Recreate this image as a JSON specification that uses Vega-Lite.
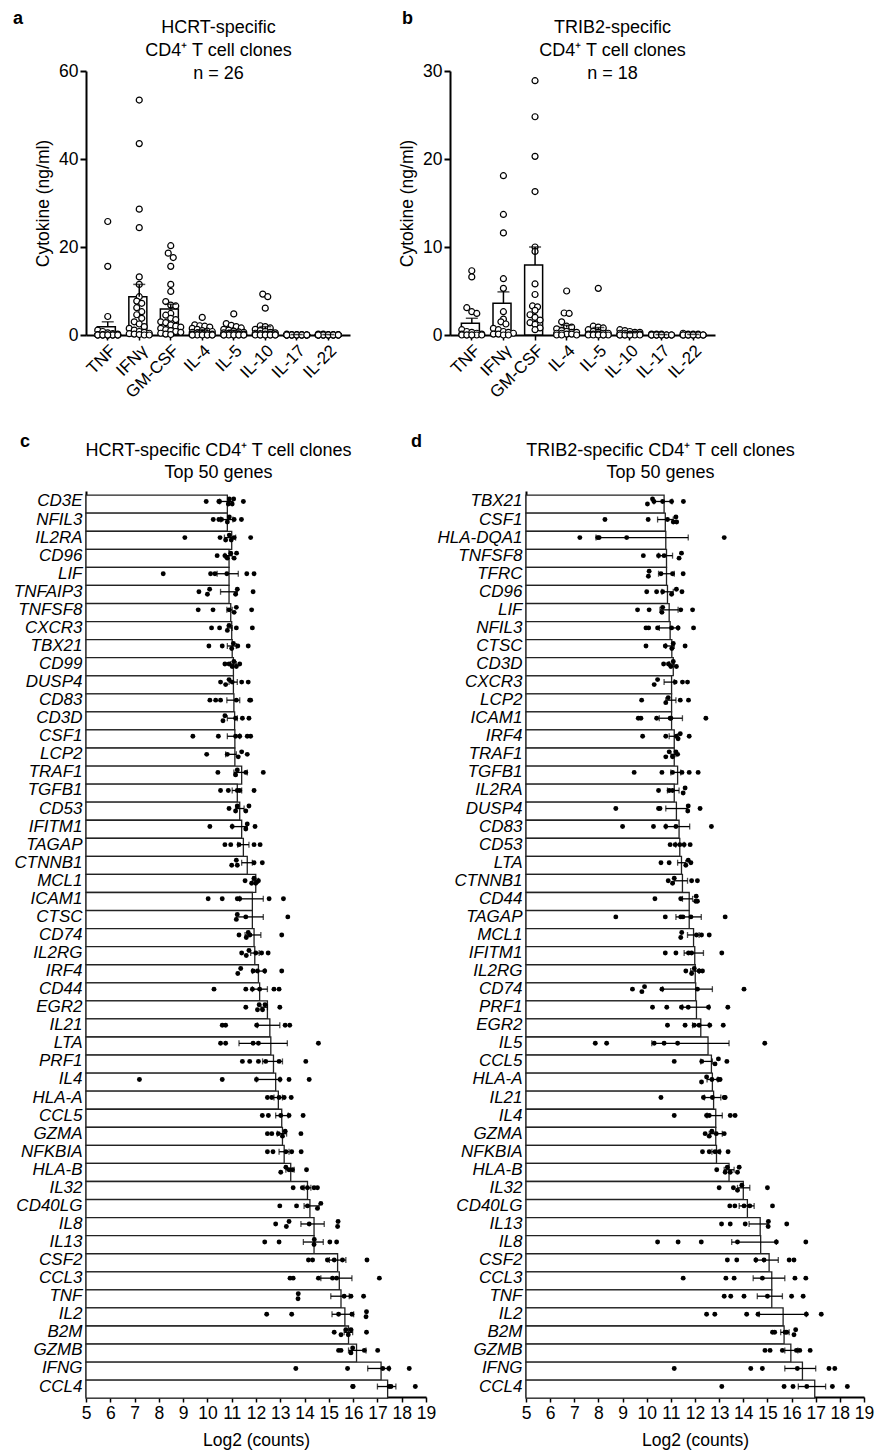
{
"$schema": "https://vega.github.io/schema/vega-lite/v6.json",
"background": "white",
"padding": {"left": 13, "top": 10, "right": 2, "bottom": 2},
"spacing": 32,
"config": {
  "view": {"stroke": null},
  "font": "Liberation Sans",
  "axis": {"grid": false, "domainColor": "black", "tickColor": "black", "labelColor": "black", "titleColor": "black", "labelFont": "Liberation Sans", "titleFont": "Liberation Sans"},
  "title": {"font": "Liberation Sans", "fontSize": 18, "fontWeight": "bold", "color": "black", "anchor": "start", "frame": "group", "offset": -10}
},
"vconcat": [
{
"hconcat": [
{
  "width": 264, "height": 264,
  "title": {"text": "a", "dx": -73},
  "data": {"values": [
    {"c":"TNF","m":1.9,"e":3.0,"v":[25.8,15.6,4.2,1.1,0.8,0.5,0.3,0.2,0.1,0.1,0,0,0,0,0,0,0,0,0,0,0,0,0,0,0,0]},
    {"c":"IFNγ","m":8.7,"e":11.5,"v":[53.4,43.5,28.6,24.4,13.2,11.5,8.7,7.7,7.2,6.2,5.3,4.6,3.8,3.0,2.5,1.9,1.5,1.1,0.8,0.6,0.4,0.3,0.2,0.1,0,0]},
    {"c":"GM-CSF","m":5.9,"e":7.0,"v":[20.3,18.6,17.6,15.6,11.5,9.9,7.6,6.8,6.6,4.9,4.5,3.8,3.5,3.0,2.8,2.3,2.0,1.8,1.5,1.2,1.0,0.8,0.6,0.4,0.2,0.1]},
    {"c":"IL-4","m":0.85,"e":1.2,"v":[4.0,2.3,2.1,2.0,1.8,1.5,1.3,1.0,0.9,0.8,0.6,0.5,0.4,0.3,0.2,0.2,0.1,0.1,0,0,0,0,0,0,0,0]},
    {"c":"IL-5","m":0.8,"e":1.1,"v":[4.8,2.6,2.2,1.9,1.6,1.3,1.1,0.9,0.7,0.6,0.5,0.4,0.3,0.2,0.2,0.1,0.1,0,0,0,0,0,0,0,0,0]},
    {"c":"IL-10","m":1.3,"e":1.9,"v":[9.3,8.7,6.1,2.1,1.9,1.6,1.3,1.0,0.8,0.6,0.5,0.4,0.3,0.2,0.2,0.1,0.1,0,0,0,0,0,0,0,0,0]},
    {"c":"IL-17","m":0.05,"e":0.1,"v":[0.2,0.1,0.1,0.1,0,0,0,0,0,0,0,0,0,0,0,0,0,0,0,0,0,0,0,0,0,0]},
    {"c":"IL-22","m":0.06,"e":0.1,"v":[0.2,0.2,0.1,0.1,0.1,0,0,0,0,0,0,0,0,0,0,0,0,0,0,0,0,0,0,0,0,0]}
  ]},
  "resolve": {"axis": {"x": "independent", "y": "independent"}},
  "layer": [
    {"mark": {"type": "bar", "fill": "white", "stroke": "black", "strokeWidth": 1.5},
     "encoding": {
       "x": {"field": "c", "type": "nominal", "sort": ["TNF","IFNγ","GM-CSF","IL-4","IL-5","IL-10","IL-17","IL-22"], "scale": {"paddingInner": 0.34, "paddingOuter": 0.36},
             "axis": {"orient": "bottom", "title": null, "labelAngle": -45, "labelFontSize": 17, "labelPadding": 2, "tickSize": 5, "tickWidth": 1.5, "domainWidth": 2}},
       "y": {"field": "m", "type": "quantitative", "scale": {"domain": [0, 60]},
             "axis": {"title": "Cytokine (ng/ml)", "values": [0,20,40,60], "labelFontSize": 17.5, "titleFontSize": 17.5, "titleFontWeight": "normal", "tickSize": 6, "tickWidth": 2, "domainWidth": 2, "labelPadding": 2, "titlePadding": 6}}
     }},
    {"transform": [
       {"flatten": ["v"]},
       {"calculate": "floor(datum.v/1.6)", "as": "b"},
       {"window": [{"op": "row_number", "as": "r"}], "groupby": ["c","b"], "sort": [{"field": "v", "order": "descending"}]},
       {"joinaggregate": [{"op": "count", "as": "n"}], "groupby": ["c","b"]},
       {"calculate": "datum.n==1?0:((datum.r-1)%5-min(datum.n-1,4)/2)*5", "as": "jo"}
     ],
     "mark": {"type": "point", "shape": "circle", "filled": true, "fill": "white", "stroke": "black", "strokeWidth": 1.2, "size": 36, "opacity": 1},
     "encoding": {
       "x": {"field": "c", "type": "nominal", "sort": ["TNF","IFNγ","GM-CSF","IL-4","IL-5","IL-10","IL-17","IL-22"],
             "axis": {"orient": "top", "labels": false, "ticks": false, "domain": false, "title": ["HCRT-specific","CD4⁺ T cell clones","n = 26"], "titleFontSize": 18, "titleFontWeight": "normal", "titleX": 132, "titleY": -39, "titleAlign": "center", "titleBaseline": "alphabetic", "titleAngle": 0, "titleLineHeight": 23}},
       "xOffset": {"field": "jo", "type": "quantitative", "scale": {"domain": [-10.4, 10.4], "range": [0, 20.8]}},
       "y": {"field": "v", "type": "quantitative", "scale": {"domain": [0, 60]}, "axis": null}
     }},
    {"mark": {"type": "rule", "color": "black", "strokeWidth": 1.5},
     "encoding": {
       "x": {"field": "c", "type": "nominal", "sort": ["TNF","IFNγ","GM-CSF","IL-4","IL-5","IL-10","IL-17","IL-22"], "axis": null},
       "y": {"field": "m", "type": "quantitative", "scale": {"domain": [0, 60]}, "axis": null},
       "y2": {"field": "e"}
     }},
    {"mark": {"type": "tick", "color": "black", "thickness": 1.5, "size": 12},
     "encoding": {
       "x": {"field": "c", "type": "nominal", "sort": ["TNF","IFNγ","GM-CSF","IL-4","IL-5","IL-10","IL-17","IL-22"], "axis": null},
       "y": {"field": "e", "type": "quantitative", "scale": {"domain": [0, 60]}, "axis": null}
     }}
  ]
},
{
  "width": 265, "height": 264,
  "title": {"text": "b", "dx": -48},
  "data": {"values": [
    {"c":"TNF","m":1.33,"e":1.9,"v":[7.3,6.6,3.1,2.65,2.45,0.6,0.4,0.3,0.2,0.1,0.1,0,0,0,0,0,0,0]},
    {"c":"IFNγ","m":3.6,"e":4.9,"v":[18.1,13.7,11.6,6.4,5.3,2.65,1.8,1.5,1.25,0.75,0.6,0.4,0.3,0.2,0.1,0.1,0,0]},
    {"c":"GM-CSF","m":7.95,"e":10.0,"v":[28.9,24.8,20.3,16.3,10.0,9.5,5.8,4.6,3.3,3.2,2.8,2.3,2.0,1.7,1.4,1.2,0.8,0.6]},
    {"c":"IL-4","m":0.85,"e":1.1,"v":[5.0,2.5,2.45,1.5,1.0,0.9,0.7,0.5,0.4,0.3,0.3,0.2,0.2,0.1,0.1,0,0,0]},
    {"c":"IL-5","m":0.55,"e":0.85,"v":[5.3,1.0,0.9,0.8,0.6,0.4,0.3,0.2,0.2,0.1,0.1,0.1,0,0,0,0,0,0]},
    {"c":"IL-10","m":0.2,"e":0.25,"v":[0.6,0.5,0.4,0.3,0.3,0.2,0.2,0.1,0.1,0.1,0,0,0,0,0,0,0,0]},
    {"c":"IL-17","m":0.03,"e":0.05,"v":[0.1,0.1,0.1,0,0,0,0,0,0,0,0,0,0,0,0,0,0,0]},
    {"c":"IL-22","m":0.05,"e":0.07,"v":[0.2,0.1,0.1,0.1,0,0,0,0,0,0,0,0,0,0,0,0,0,0]}
  ]},
  "resolve": {"axis": {"x": "independent", "y": "independent"}},
  "layer": [
    {"mark": {"type": "bar", "fill": "white", "stroke": "black", "strokeWidth": 1.5},
     "encoding": {
       "x": {"field": "c", "type": "nominal", "sort": ["TNF","IFNγ","GM-CSF","IL-4","IL-5","IL-10","IL-17","IL-22"], "scale": {"paddingInner": 0.34, "paddingOuter": 0.36},
             "axis": {"orient": "bottom", "title": null, "labelAngle": -45, "labelFontSize": 17, "labelPadding": 2, "tickSize": 5, "tickWidth": 1.5, "domainWidth": 2}},
       "y": {"field": "m", "type": "quantitative", "scale": {"domain": [0, 30]},
             "axis": {"title": "Cytokine (ng/ml)", "values": [0,10,20,30], "labelFontSize": 17.5, "titleFontSize": 17.5, "titleFontWeight": "normal", "tickSize": 6, "tickWidth": 2, "domainWidth": 2, "labelPadding": 2, "titlePadding": 6}}
     }},
    {"transform": [
       {"flatten": ["v"]},
       {"calculate": "floor(datum.v/0.8)", "as": "b"},
       {"window": [{"op": "row_number", "as": "r"}], "groupby": ["c","b"], "sort": [{"field": "v", "order": "descending"}]},
       {"joinaggregate": [{"op": "count", "as": "n"}], "groupby": ["c","b"]},
       {"calculate": "datum.n==1?0:((datum.r-1)%5-min(datum.n-1,4)/2)*5", "as": "jo"}
     ],
     "mark": {"type": "point", "shape": "circle", "filled": true, "fill": "white", "stroke": "black", "strokeWidth": 1.2, "size": 36, "opacity": 1},
     "encoding": {
       "x": {"field": "c", "type": "nominal", "sort": ["TNF","IFNγ","GM-CSF","IL-4","IL-5","IL-10","IL-17","IL-22"],
             "axis": {"orient": "top", "labels": false, "ticks": false, "domain": false, "title": ["TRIB2-specific","CD4⁺ T cell clones","n = 18"], "titleFontSize": 18, "titleFontWeight": "normal", "titleX": 162, "titleY": -39, "titleAlign": "center", "titleBaseline": "alphabetic", "titleAngle": 0, "titleLineHeight": 23}},
       "xOffset": {"field": "jo", "type": "quantitative", "scale": {"domain": [-10.4, 10.4], "range": [0, 20.8]}},
       "y": {"field": "v", "type": "quantitative", "scale": {"domain": [0, 30]}, "axis": null}
     }},
    {"mark": {"type": "rule", "color": "black", "strokeWidth": 1.5},
     "encoding": {
       "x": {"field": "c", "type": "nominal", "sort": ["TNF","IFNγ","GM-CSF","IL-4","IL-5","IL-10","IL-17","IL-22"], "axis": null},
       "y": {"field": "m", "type": "quantitative", "scale": {"domain": [0, 30]}, "axis": null},
       "y2": {"field": "e"}
     }},
    {"mark": {"type": "tick", "color": "black", "thickness": 1.5, "size": 12},
     "encoding": {
       "x": {"field": "c", "type": "nominal", "sort": ["TNF","IFNγ","GM-CSF","IL-4","IL-5","IL-10","IL-17","IL-22"], "axis": null},
       "y": {"field": "e", "type": "quantitative", "scale": {"domain": [0, 30]}, "axis": null}
     }}
  ]
}
],
"spacing": 100,
"bounds": "flush"
},
{
"hconcat": [
{
  "width": 340, "height": 906,
  "title": {"text": "c", "dx": -66},
  "data": {"values": [
    {"g":"CD3E","m":10.82,"lo":10.5,"hi":11.05,"v":[9.95,10.47,10.5,10.86,10.9,11.02,11.08,11.48]},
    {"g":"NFIL3","m":10.82,"lo":10.55,"hi":11.05,"v":[10.24,10.47,10.58,10.82,10.9,11.1,11.4]},
    {"g":"IL2RA","m":11.0,"lo":10.7,"hi":11.16,"v":[9.07,10.52,10.75,10.98,11.1,10.9,11.78]},
    {"g":"CD96","m":10.89,"lo":10.72,"hi":11.02,"v":[10.4,10.72,10.82,10.96,11.1,11.2]},
    {"g":"LIF","m":10.89,"lo":10.4,"hi":11.27,"v":[8.18,10.13,10.31,10.8,11.62,11.92]},
    {"g":"TNFAIP3","m":10.89,"lo":10.54,"hi":11.23,"v":[9.65,10.0,10.09,11.16,11.23,11.88]},
    {"g":"TNFSF8","m":10.96,"lo":10.8,"hi":11.02,"v":[9.62,10.23,10.89,11.1,11.19,11.82]},
    {"g":"CXCR3","m":11.0,"lo":10.82,"hi":11.02,"v":[10.17,10.5,10.82,10.89,11.19,11.85]},
    {"g":"TBX21","m":11.02,"lo":10.82,"hi":11.19,"v":[10.06,10.61,11.0,11.07,11.25,11.68]},
    {"g":"CD99","m":11.07,"lo":10.96,"hi":11.19,"v":[10.72,10.89,11.02,11.09,11.19,11.33]},
    {"g":"DUSP4","m":11.07,"lo":10.89,"hi":11.23,"v":[10.54,10.75,10.89,11.02,11.41,11.68]},
    {"g":"CD83","m":11.09,"lo":10.8,"hi":11.33,"v":[10.1,10.34,10.54,11.19,11.74,11.78]},
    {"g":"CD3D","m":11.12,"lo":10.82,"hi":11.23,"v":[10.64,10.72,11.16,11.44,11.71]},
    {"g":"CSF1","m":11.13,"lo":10.82,"hi":11.33,"v":[9.4,10.45,11.16,11.33,11.64,11.78]},
    {"g":"LCP2","m":11.13,"lo":10.75,"hi":11.19,"v":[9.97,10.82,11.27,11.41,11.64]},
    {"g":"TRAF1","m":11.41,"lo":11.09,"hi":11.64,"v":[10.43,11.16,11.23,11.58,12.3]},
    {"g":"TGFB1","m":11.23,"lo":11.02,"hi":11.41,"v":[10.54,10.86,11.23,11.33,11.92]},
    {"g":"CD53","m":11.33,"lo":11.16,"hi":11.51,"v":[10.89,11.16,11.23,11.58,11.71]},
    {"g":"IFITM1","m":11.41,"lo":11.02,"hi":11.64,"v":[10.1,11.02,11.58,11.64,11.96]},
    {"g":"TAGAP","m":11.48,"lo":11.25,"hi":11.71,"v":[10.72,10.96,11.3,11.92,12.17]},
    {"g":"CTNNB1","m":11.64,"lo":11.41,"hi":11.85,"v":[11.0,11.19,11.23,11.92,12.26]},
    {"g":"MCL1","m":11.99,"lo":11.85,"hi":12.1,"v":[11.55,11.82,11.92,11.99,12.1]},
    {"g":"ICAM1","m":11.85,"lo":11.33,"hi":12.3,"v":[10.03,10.61,11.23,11.33,12.54,13.13]},
    {"g":"CTSC","m":11.85,"lo":11.19,"hi":12.3,"v":[11.19,11.23,11.58,13.31]},
    {"g":"CD74","m":11.92,"lo":11.55,"hi":12.2,"v":[11.3,11.6,11.68,11.75,13.06]},
    {"g":"IL2RG","m":11.95,"lo":11.78,"hi":12.13,"v":[11.41,11.6,11.71,11.99,12.23,12.5]},
    {"g":"IRF4","m":12.1,"lo":11.85,"hi":12.37,"v":[11.25,11.37,11.88,12.06,12.36,13.06]},
    {"g":"CD44","m":12.15,"lo":11.85,"hi":12.47,"v":[10.27,11.58,11.85,12.15,12.74,12.95]},
    {"g":"EGR2","m":12.47,"lo":12.2,"hi":12.47,"v":[11.58,12.06,12.13,12.27,12.37,12.98]},
    {"g":"IL21","m":12.57,"lo":12.06,"hi":12.98,"v":[10.61,10.75,12.03,13.2,13.39]},
    {"g":"LTA","m":12.61,"lo":11.3,"hi":13.29,"v":[10.54,10.75,11.88,12.1,14.57]},
    {"g":"PRF1","m":12.72,"lo":12.27,"hi":13.09,"v":[11.44,11.74,12.1,12.4,12.95,14.05]},
    {"g":"IL4","m":12.81,"lo":12.02,"hi":12.99,"v":[7.2,10.61,12.02,12.99,13.36,14.19]},
    {"g":"HLA-A","m":12.92,"lo":12.74,"hi":13.09,"v":[12.47,12.65,12.95,13.16,13.45]},
    {"g":"CCL5","m":13.06,"lo":12.81,"hi":13.33,"v":[12.26,12.51,13.02,13.36,13.94]},
    {"g":"GZMA","m":13.09,"lo":12.88,"hi":13.26,"v":[12.47,12.65,12.92,13.09,13.2,13.85]},
    {"g":"NFKBIA","m":13.16,"lo":12.95,"hi":13.36,"v":[12.47,12.7,13.23,13.47,13.86]},
    {"g":"HLA-B","m":13.43,"lo":13.23,"hi":13.57,"v":[13.02,13.23,13.36,13.5,14.08]},
    {"g":"IL32","m":14.12,"lo":13.98,"hi":14.26,"v":[13.53,13.91,14.12,14.39,14.53]},
    {"g":"CD40LG","m":14.22,"lo":13.98,"hi":14.6,"v":[12.98,13.67,14.12,14.53,14.67]},
    {"g":"IL8","m":14.39,"lo":13.85,"hi":14.81,"v":[12.81,13.25,13.36,14.19,15.36,15.38]},
    {"g":"IL13","m":14.39,"lo":13.95,"hi":14.77,"v":[12.36,12.95,14.39,14.4,15.04,15.32]},
    {"g":"CSF2","m":15.36,"lo":15.02,"hi":15.7,"v":[14.16,14.33,14.94,15.22,15.56,16.57]},
    {"g":"CCL3","m":15.43,"lo":14.67,"hi":15.95,"v":[13.4,13.53,14.57,15.15,15.32,17.08]},
    {"g":"TNF","m":15.5,"lo":15.08,"hi":15.84,"v":[13.73,13.74,15.63,15.91,16.43]},
    {"g":"IL2","m":15.66,"lo":15.13,"hi":16.02,"v":[12.44,13.47,15.4,15.95,16.53,16.55]},
    {"g":"B2M","m":15.81,"lo":15.63,"hi":15.98,"v":[15.22,15.5,15.7,15.8,15.91,16.55]},
    {"g":"GZMB","m":16.14,"lo":15.81,"hi":16.53,"v":[15.4,15.5,15.91,15.98,16.46,17.01]},
    {"g":"IFNG","m":17.15,"lo":16.6,"hi":17.49,"v":[13.64,15.77,17.22,17.47,18.31]},
    {"g":"CCL4","m":17.42,"lo":17.0,"hi":17.76,"v":[16.0,15.98,17.56,17.48,18.56]}
  ]},
  "resolve": {"axis": {"x": "independent", "y": "independent"}},
  "layer": [
    {"mark": {"type": "bar", "fill": "white", "stroke": "#222222", "strokeWidth": 1.3},
     "encoding": {
       "x": {"field": "m", "type": "quantitative", "scale": {"domain": [5, 19]},
             "axis": {"orient": "bottom", "title": "Log2 (counts)", "values": [5,6,7,8,9,10,11,12,13,14,15,16,17,18,19], "labelFontSize": 17.5, "labelPadding": 2, "tickSize": 5, "tickWidth": 1.5, "domainWidth": 2, "titleFontSize": 17.5, "titleFontWeight": "normal", "titlePadding": 10, "labelOverlap": false, "labelFlush": false}},
       "x2": {"datum": 5},
       "y": {"field": "g", "type": "nominal", "sort": ["CD3E","NFIL3","IL2RA","CD96","LIF","TNFAIP3","TNFSF8","CXCR3","TBX21","CD99","DUSP4","CD83","CD3D","CSF1","LCP2","TRAF1","TGFB1","CD53","IFITM1","TAGAP","CTNNB1","MCL1","ICAM1","CTSC","CD74","IL2RG","IRF4","CD44","EGR2","IL21","LTA","PRF1","IL4","HLA-A","CCL5","GZMA","NFKBIA","HLA-B","IL32","CD40LG","IL8","IL13","CSF2","CCL3","TNF","IL2","B2M","GZMB","IFNG","CCL4"],
             "scale": {"paddingInner": 0.3, "paddingOuter": 0.23},
             "axis": {"title": null, "ticks": false, "domainWidth": 2, "labelFontSize": 17, "labelFontStyle": "italic", "labelPadding": 4, "labelOverlap": false}}
     }},
    {"mark": {"type": "rule", "color": "black", "strokeWidth": 1.3},
     "encoding": {
       "x": {"field": "lo", "type": "quantitative", "scale": {"domain": [5, 19]}, "axis": null},
       "x2": {"field": "hi"},
       "y": {"field": "g", "type": "nominal", "sort": ["CD3E","NFIL3","IL2RA","CD96","LIF","TNFAIP3","TNFSF8","CXCR3","TBX21","CD99","DUSP4","CD83","CD3D","CSF1","LCP2","TRAF1","TGFB1","CD53","IFITM1","TAGAP","CTNNB1","MCL1","ICAM1","CTSC","CD74","IL2RG","IRF4","CD44","EGR2","IL21","LTA","PRF1","IL4","HLA-A","CCL5","GZMA","NFKBIA","HLA-B","IL32","CD40LG","IL8","IL13","CSF2","CCL3","TNF","IL2","B2M","GZMB","IFNG","CCL4"], "axis": null}
     }},
    {"transform": [{"fold": ["lo", "hi"], "as": ["k", "ev"]}],
     "mark": {"type": "tick", "color": "black", "thickness": 1.3, "size": 6},
     "encoding": {
       "x": {"field": "ev", "type": "quantitative", "scale": {"domain": [5, 19]}, "axis": null},
       "y": {"field": "g", "type": "nominal", "sort": ["CD3E","NFIL3","IL2RA","CD96","LIF","TNFAIP3","TNFSF8","CXCR3","TBX21","CD99","DUSP4","CD83","CD3D","CSF1","LCP2","TRAF1","TGFB1","CD53","IFITM1","TAGAP","CTNNB1","MCL1","ICAM1","CTSC","CD74","IL2RG","IRF4","CD44","EGR2","IL21","LTA","PRF1","IL4","HLA-A","CCL5","GZMA","NFKBIA","HLA-B","IL32","CD40LG","IL8","IL13","CSF2","CCL3","TNF","IL2","B2M","GZMB","IFNG","CCL4"], "axis": null}
     }},
    {"transform": [
       {"flatten": ["v"]},
       {"calculate": "floor(datum.v*4)", "as": "b"},
       {"window": [{"op": "row_number", "as": "r"}], "groupby": ["g","b"], "sort": [{"field": "v"}]},
       {"joinaggregate": [{"op": "count", "as": "n"}], "groupby": ["g","b"]},
       {"calculate": "datum.n==1?0:(datum.r%2==0?-2.5:2.5)", "as": "jo"}
     ],
     "mark": {"type": "circle", "size": 24, "color": "black", "opacity": 1},
     "encoding": {
       "x": {"field": "v", "type": "quantitative", "scale": {"domain": [5, 19]},
             "axis": {"orient": "top", "labels": false, "ticks": false, "domain": false, "title": ["HCRT-specific CD4⁺ T cell clones","Top 50 genes"], "titleFontSize": 18, "titleFontWeight": "normal", "titleX": 132, "titleY": -36, "titleAlign": "center", "titleBaseline": "alphabetic", "titleAngle": 0, "titleLineHeight": 22}},
       "y": {"field": "g", "type": "nominal", "sort": ["CD3E","NFIL3","IL2RA","CD96","LIF","TNFAIP3","TNFSF8","CXCR3","TBX21","CD99","DUSP4","CD83","CD3D","CSF1","LCP2","TRAF1","TGFB1","CD53","IFITM1","TAGAP","CTNNB1","MCL1","ICAM1","CTSC","CD74","IL2RG","IRF4","CD44","EGR2","IL21","LTA","PRF1","IL4","HLA-A","CCL5","GZMA","NFKBIA","HLA-B","IL32","CD40LG","IL8","IL13","CSF2","CCL3","TNF","IL2","B2M","GZMB","IFNG","CCL4"], "axis": null},
       "yOffset": {"field": "jo", "type": "quantitative", "scale": {"domain": [-6.3, 6.3], "range": [0, 12.6]}}
     }}
  ]
},
{
  "width": 338, "height": 906,
  "title": {"text": "d", "dx": -115},
  "data": {"values": [
    {"g":"TBX21","m":10.72,"lo":10.3,"hi":11.05,"v":[10.03,10.24,10.3,10.66,11.03,11.52]},
    {"g":"CSF1","m":10.77,"lo":10.45,"hi":11.1,"v":[8.27,10.06,10.86,11.1,11.21,11.24]},
    {"g":"HLA-DQA1","m":10.79,"lo":7.9,"hi":11.72,"v":[7.23,7.97,8.03,9.17,13.21]},
    {"g":"TNFSF8","m":10.82,"lo":10.49,"hi":11.07,"v":[9.86,10.49,10.72,11.34,11.44]},
    {"g":"TFRC","m":10.82,"lo":10.49,"hi":11.14,"v":[10.1,10.07,10.59,11.07,11.51]},
    {"g":"CD96","m":10.86,"lo":10.63,"hi":11.1,"v":[10.0,10.41,10.66,11.03,11.23,11.46]},
    {"g":"LIF","m":10.93,"lo":10.55,"hi":11.3,"v":[9.62,10.1,10.63,10.66,11.41,11.9]},
    {"g":"NFIL3","m":10.97,"lo":10.52,"hi":11.3,"v":[9.97,10.08,10.45,11.03,11.3,11.94]},
    {"g":"CTSC","m":11.04,"lo":10.79,"hi":11.14,"v":[9.97,10.77,11.04,11.1,11.59]},
    {"g":"CD3D","m":11.1,"lo":10.93,"hi":11.14,"v":[10.7,10.9,11.0,11.1,11.23]},
    {"g":"CXCR3","m":11.03,"lo":10.72,"hi":11.14,"v":[10.31,10.45,11.18,11.48,11.69]},
    {"g":"LCP2","m":11.03,"lo":10.79,"hi":11.21,"v":[9.79,10.79,10.89,11.39,11.73]},
    {"g":"ICAM1","m":11.03,"lo":10.52,"hi":11.48,"v":[9.65,9.76,10.41,11.0,10.97,12.45]},
    {"g":"IRF4","m":11.14,"lo":10.93,"hi":11.28,"v":[9.83,10.79,11.23,11.3,11.39,11.76]},
    {"g":"TRAF1","m":11.14,"lo":11.0,"hi":11.21,"v":[10.79,10.93,11.07,11.21,11.28]},
    {"g":"TGFB1","m":11.28,"lo":11.0,"hi":11.41,"v":[9.48,10.63,11.07,11.46,11.76,12.13]},
    {"g":"IL2RA","m":11.14,"lo":10.86,"hi":11.34,"v":[10.49,10.93,11.07,11.51,11.59]},
    {"g":"DUSP4","m":11.23,"lo":10.79,"hi":11.69,"v":[8.72,10.49,10.55,11.72,11.7,12.21]},
    {"g":"CD83","m":11.34,"lo":10.79,"hi":11.78,"v":[9.0,10.28,10.79,11.21,12.68]},
    {"g":"CD53","m":11.37,"lo":11.2,"hi":11.55,"v":[10.97,11.18,11.37,11.55,11.8]},
    {"g":"LTA","m":11.44,"lo":11.28,"hi":11.62,"v":[10.59,10.93,11.62,11.72,11.83]},
    {"g":"CTNNB1","m":11.48,"lo":11.14,"hi":11.69,"v":[10.89,11.07,11.14,11.86,12.1]},
    {"g":"CD44","m":11.76,"lo":11.48,"hi":11.9,"v":[10.34,11.41,12.03,12.1,12.05]},
    {"g":"TAGAP","m":11.76,"lo":11.21,"hi":12.26,"v":[8.72,10.77,11.41,11.5,11.83,13.25]},
    {"g":"MCL1","m":11.94,"lo":11.69,"hi":12.17,"v":[11.41,11.45,12.06,12.27,12.59]},
    {"g":"IFITM1","m":11.99,"lo":11.55,"hi":12.35,"v":[10.77,11.21,11.73,11.86,13.11]},
    {"g":"IL2RG","m":12.01,"lo":11.82,"hi":12.17,"v":[11.62,11.86,11.97,12.17,12.31]},
    {"g":"CD74","m":12.03,"lo":10.66,"hi":12.72,"v":[9.41,9.8,9.91,10.63,12.1,14.03]},
    {"g":"PRF1","m":12.06,"lo":11.48,"hi":12.59,"v":[10.24,10.83,11.44,11.72,12.56,13.36]},
    {"g":"EGR2","m":12.24,"lo":11.9,"hi":12.59,"v":[10.86,11.59,11.97,12.17,12.61,13.17]},
    {"g":"IL5","m":12.54,"lo":10.21,"hi":13.41,"v":[7.87,8.34,10.31,10.72,11.28,14.89]},
    {"g":"CCL5","m":12.68,"lo":12.24,"hi":12.72,"v":[11.14,12.28,12.83,12.97,13.32]},
    {"g":"HLA-A","m":12.72,"lo":12.5,"hi":12.95,"v":[12.27,12.48,12.7,12.97,13.04]},
    {"g":"IL21","m":12.77,"lo":12.39,"hi":13.07,"v":[10.59,12.35,12.72,13.21,13.25]},
    {"g":"IL4","m":12.86,"lo":12.5,"hi":13.13,"v":[11.14,12.48,12.59,13.46,13.66]},
    {"g":"GZMA","m":12.86,"lo":12.59,"hi":13.13,"v":[12.42,12.59,12.7,12.88,13.21]},
    {"g":"NFKBIA","m":12.89,"lo":12.7,"hi":13.04,"v":[12.31,12.59,12.83,13.0,13.37]},
    {"g":"HLA-B","m":13.41,"lo":13.21,"hi":13.62,"v":[12.9,13.25,13.34,13.46,13.76,13.83]},
    {"g":"IL32","m":14.0,"lo":13.76,"hi":14.27,"v":[13.0,13.59,13.76,13.94,15.0]},
    {"g":"CD40LG","m":14.17,"lo":13.83,"hi":14.45,"v":[13.44,13.65,14.03,14.27,15.21]},
    {"g":"IL13","m":14.7,"lo":14.24,"hi":15.03,"v":[13.1,13.46,14.08,15.03,15.04,15.8]},
    {"g":"IL8","m":14.72,"lo":13.52,"hi":15.37,"v":[10.45,11.3,12.26,13.76,15.37,16.59]},
    {"g":"CSF2","m":15.07,"lo":14.52,"hi":15.45,"v":[13.34,13.73,14.52,14.86,15.9,16.1]},
    {"g":"CCL3","m":15.18,"lo":14.41,"hi":15.72,"v":[11.51,13.28,13.62,14.79,16.14,16.59]},
    {"g":"TNF","m":15.18,"lo":14.58,"hi":15.62,"v":[13.21,13.48,14.03,15.0,16.0,16.48]},
    {"g":"IL2","m":15.65,"lo":14.66,"hi":16.61,"v":[12.48,12.82,14.14,14.61,16.61,17.23]},
    {"g":"B2M","m":15.69,"lo":15.55,"hi":15.9,"v":[15.21,15.3,15.73,15.8,16.1,16.17]},
    {"g":"GZMB","m":15.97,"lo":15.72,"hi":16.26,"v":[14.9,15.11,15.62,16.2,16.34,16.77]},
    {"g":"IFNG","m":16.45,"lo":15.72,"hi":17.0,"v":[11.14,14.31,14.79,16.24,17.55,17.79]},
    {"g":"CCL4","m":16.96,"lo":16.28,"hi":17.41,"v":[13.11,15.69,16.06,16.63,17.69,18.31]}
  ]},
  "resolve": {"axis": {"x": "independent", "y": "independent"}},
  "layer": [
    {"mark": {"type": "bar", "fill": "white", "stroke": "#222222", "strokeWidth": 1.3},
     "encoding": {
       "x": {"field": "m", "type": "quantitative", "scale": {"domain": [5, 19]},
             "axis": {"orient": "bottom", "title": "Log2 (counts)", "values": [5,6,7,8,9,10,11,12,13,14,15,16,17,18,19], "labelFontSize": 17.5, "labelPadding": 2, "tickSize": 5, "tickWidth": 1.5, "domainWidth": 2, "titleFontSize": 17.5, "titleFontWeight": "normal", "titlePadding": 10, "labelOverlap": false, "labelFlush": false}},
       "x2": {"datum": 5},
       "y": {"field": "g", "type": "nominal", "sort": ["TBX21","CSF1","HLA-DQA1","TNFSF8","TFRC","CD96","LIF","NFIL3","CTSC","CD3D","CXCR3","LCP2","ICAM1","IRF4","TRAF1","TGFB1","IL2RA","DUSP4","CD83","CD53","LTA","CTNNB1","CD44","TAGAP","MCL1","IFITM1","IL2RG","CD74","PRF1","EGR2","IL5","CCL5","HLA-A","IL21","IL4","GZMA","NFKBIA","HLA-B","IL32","CD40LG","IL13","IL8","CSF2","CCL3","TNF","IL2","B2M","GZMB","IFNG","CCL4"],
             "scale": {"paddingInner": 0.3, "paddingOuter": 0.23},
             "axis": {"title": null, "ticks": false, "domainWidth": 2, "labelFontSize": 17, "labelFontStyle": "italic", "labelPadding": 4, "labelOverlap": false}}
     }},
    {"mark": {"type": "rule", "color": "black", "strokeWidth": 1.3},
     "encoding": {
       "x": {"field": "lo", "type": "quantitative", "scale": {"domain": [5, 19]}, "axis": null},
       "x2": {"field": "hi"},
       "y": {"field": "g", "type": "nominal", "sort": ["TBX21","CSF1","HLA-DQA1","TNFSF8","TFRC","CD96","LIF","NFIL3","CTSC","CD3D","CXCR3","LCP2","ICAM1","IRF4","TRAF1","TGFB1","IL2RA","DUSP4","CD83","CD53","LTA","CTNNB1","CD44","TAGAP","MCL1","IFITM1","IL2RG","CD74","PRF1","EGR2","IL5","CCL5","HLA-A","IL21","IL4","GZMA","NFKBIA","HLA-B","IL32","CD40LG","IL13","IL8","CSF2","CCL3","TNF","IL2","B2M","GZMB","IFNG","CCL4"], "axis": null}
     }},
    {"transform": [{"fold": ["lo", "hi"], "as": ["k", "ev"]}],
     "mark": {"type": "tick", "color": "black", "thickness": 1.3, "size": 6},
     "encoding": {
       "x": {"field": "ev", "type": "quantitative", "scale": {"domain": [5, 19]}, "axis": null},
       "y": {"field": "g", "type": "nominal", "sort": ["TBX21","CSF1","HLA-DQA1","TNFSF8","TFRC","CD96","LIF","NFIL3","CTSC","CD3D","CXCR3","LCP2","ICAM1","IRF4","TRAF1","TGFB1","IL2RA","DUSP4","CD83","CD53","LTA","CTNNB1","CD44","TAGAP","MCL1","IFITM1","IL2RG","CD74","PRF1","EGR2","IL5","CCL5","HLA-A","IL21","IL4","GZMA","NFKBIA","HLA-B","IL32","CD40LG","IL13","IL8","CSF2","CCL3","TNF","IL2","B2M","GZMB","IFNG","CCL4"], "axis": null}
     }},
    {"transform": [
       {"flatten": ["v"]},
       {"calculate": "floor(datum.v*4)", "as": "b"},
       {"window": [{"op": "row_number", "as": "r"}], "groupby": ["g","b"], "sort": [{"field": "v"}]},
       {"joinaggregate": [{"op": "count", "as": "n"}], "groupby": ["g","b"]},
       {"calculate": "datum.n==1?0:(datum.r%2==0?-2.5:2.5)", "as": "jo"}
     ],
     "mark": {"type": "circle", "size": 24, "color": "black", "opacity": 1},
     "encoding": {
       "x": {"field": "v", "type": "quantitative", "scale": {"domain": [5, 19]},
             "axis": {"orient": "top", "labels": false, "ticks": false, "domain": false, "title": ["TRIB2-specific  CD4⁺ T cell clones","Top 50 genes"], "titleFontSize": 18, "titleFontWeight": "normal", "titleX": 134, "titleY": -36, "titleAlign": "center", "titleBaseline": "alphabetic", "titleAngle": 0, "titleLineHeight": 22}},
       "y": {"field": "g", "type": "nominal", "sort": ["TBX21","CSF1","HLA-DQA1","TNFSF8","TFRC","CD96","LIF","NFIL3","CTSC","CD3D","CXCR3","LCP2","ICAM1","IRF4","TRAF1","TGFB1","IL2RA","DUSP4","CD83","CD53","LTA","CTNNB1","CD44","TAGAP","MCL1","IFITM1","IL2RG","CD74","PRF1","EGR2","IL5","CCL5","HLA-A","IL21","IL4","GZMA","NFKBIA","HLA-B","IL32","CD40LG","IL13","IL8","CSF2","CCL3","TNF","IL2","B2M","GZMB","IFNG","CCL4"], "axis": null},
       "yOffset": {"field": "jo", "type": "quantitative", "scale": {"domain": [-6.3, 6.3], "range": [0, 12.6]}}
     }}
  ]
}
],
"spacing": 100,
"bounds": "flush"
}
]
}
